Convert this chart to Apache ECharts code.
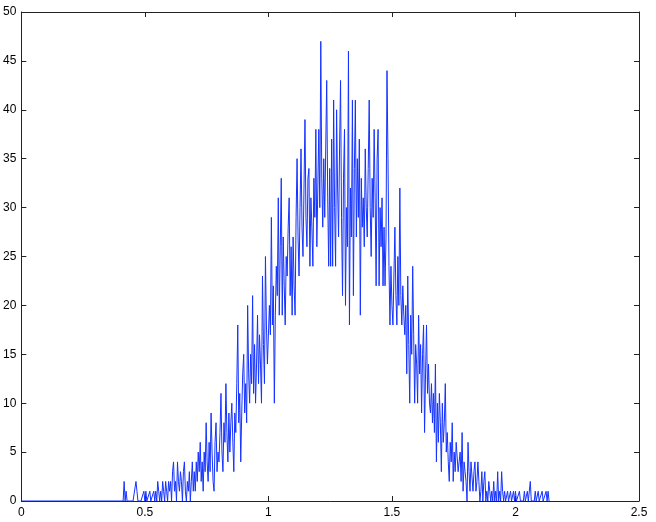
<!DOCTYPE html>
<html>
<head>
<meta charset="utf-8">
<script src="https://cdn.jsdelivr.net/npm/echarts@6/dist/echarts.min.js"></script>
<style>html,body{margin:0;padding:0;background:#fff}#c{width:656px;height:522px}</style>
</head>
<body>
<div id="c"></div>
<script>
// x-axis ticks and y-axis ticks
var xTicks = [0, 0.5, 1, 1.5, 2, 2.5];
var yTicks = [0, 5, 10, 15, 20, 25, 30, 35, 40, 45, 50];
// histogram counts, one per bin, starting at binStart with bins binWidth wide
var leadIn = [0, 0];
var binStart = 0.4;
var binWidth = 0.004;
var counts = [
  // 0.40
  0,0,0,0,2,0,1,0,0,0,0,0,0,0,0,0,2,1,0,0,0,0,0,0,1,
  // 0.50
  0,1,0,0,0,1,0,0,0,1,0,1,0,2,1,0,1,0,2,1,0,2,1,0,2,
  // 0.60
  1,2,0,3,4,1,2,0,4,2,1,3,2,0,3,4,1,0,2,1,3,0,2,4,1,
  // 0.70
  3,1,4,2,5,3,6,2,4,1,5,3,8,4,2,6,3,9,5,2,1,6,8,3,5,
  // 0.80
  4,7,11,5,3,8,6,12,7,4,9,5,8,10,6,3,9,7,12,18,8,11,4,9,13,
  // 0.90
  15,9,12,8,20,13,10,15,12,21,11,16,10,14,19,12,17,14,10,23,16,12,25,18,14,
  // 1.00
  14,20,17,29,18,22,10,19,24,21,31,19,26,33,19,27,22,18,25,23,28,31,21,26,19,
  // 1.10
  27,22,19,29,35,27,23,30,36,28,25,32,39,29,26,33,34,24,31,28,24,33,29,38,26,
  // 1.20
  32,38,30,47,33,28,35,29,36,43,31,24,34,24,37,24,41,30,24,40,32,27,36,43,29,
  // 1.30
  21,33,38,20,30,26,46,18,32,27,41,21,34,41,27,35,29,37,19,33,28,31,26,36,30,
  // 1.40
  27,34,41,30,25,33,29,38,31,22,35,38,22,30,26,31,22,28,22,27,44,35,24,18,24,
  // 1.50
  20,18,23,28,21,18,25,20,32,21,18,22,19,17,20,13,23,16,10,19,15,24,17,10,16,
  // 1.60
  14,10,19,13,16,9,15,18,7,13,18,11,14,10,9,12,8,11,7,14,4,10,6,11,8,
  // 1.70
  3,10,6,8,12,5,7,4,2,6,4,8,2,5,3,6,6,3,4,5,2,7,1,4,3,
  // 1.80
  2,0,6,3,1,4,4,1,3,4,1,2,4,2,0,1,3,0,2,3,0,1,0,2,1,
  // 1.90
  0,1,0,2,0,1,0,3,0,1,0,3,1,0,1,0,0,1,0,0,1,0,0,1,0,
  // 2.00
  1,0,0,0,1,0,0,0,0,1,0,0,1,0,0,2,0,0,0,0,1,0,0,1,0,
  // 2.10
  0,0,1,0,0,0,1,0,1,0
];

var pts = [leadIn];
for (var i = 0; i < counts.length; i++) {
  pts.push([+(binStart + i * binWidth).toFixed(4), counts[i]]);
}

var axisCol = '#222';
var font = 'Liberation Sans, Arial, Helvetica, sans-serif';
var chart = echarts.init(document.getElementById('c'), null, {renderer: 'canvas'});
function xAx(pos, showLabel) {
  return {
    type: 'value', position: pos, min: xTicks[0], max: xTicks[xTicks.length - 1], interval: 0.5,
    axisLine: {show: true, onZero: false, lineStyle: {color: axisCol, width: 1}},
    axisTick: {show: true, inside: true, length: 5, lineStyle: {color: axisCol}},
    axisLabel: {show: showLabel, color: '#000', fontSize: 12, fontFamily: font, margin: 6},
    splitLine: {show: false}
  };
}
function yAx(pos, showLabel) {
  return {
    type: 'value', position: pos, min: yTicks[0], max: yTicks[yTicks.length - 1], interval: 5,
    axisLine: {show: true, onZero: false, lineStyle: {color: axisCol, width: 1}},
    axisTick: {show: true, inside: true, length: 5, lineStyle: {color: axisCol}},
    axisLabel: {show: showLabel, color: '#000', fontSize: 12, fontFamily: font, margin: 5},
    splitLine: {show: false}
  };
}
chart.setOption({
  animation: false,
  backgroundColor: '#fff',
  grid: {left: 20, top: 12, width: 619, height: 489, containLabel: false},
  xAxis: [xAx('bottom', true), xAx('top', false)],
  yAxis: [yAx('left', true), yAx('right', false)],
  series: [{
    type: 'line',
    xAxisIndex: 0, yAxisIndex: 0,
    data: pts,
    showSymbol: false,
    symbol: 'none',
    lineStyle: {color: '#1533ff', width: 1},
    z: 3
  }]
});
</script>
</body>
</html>
